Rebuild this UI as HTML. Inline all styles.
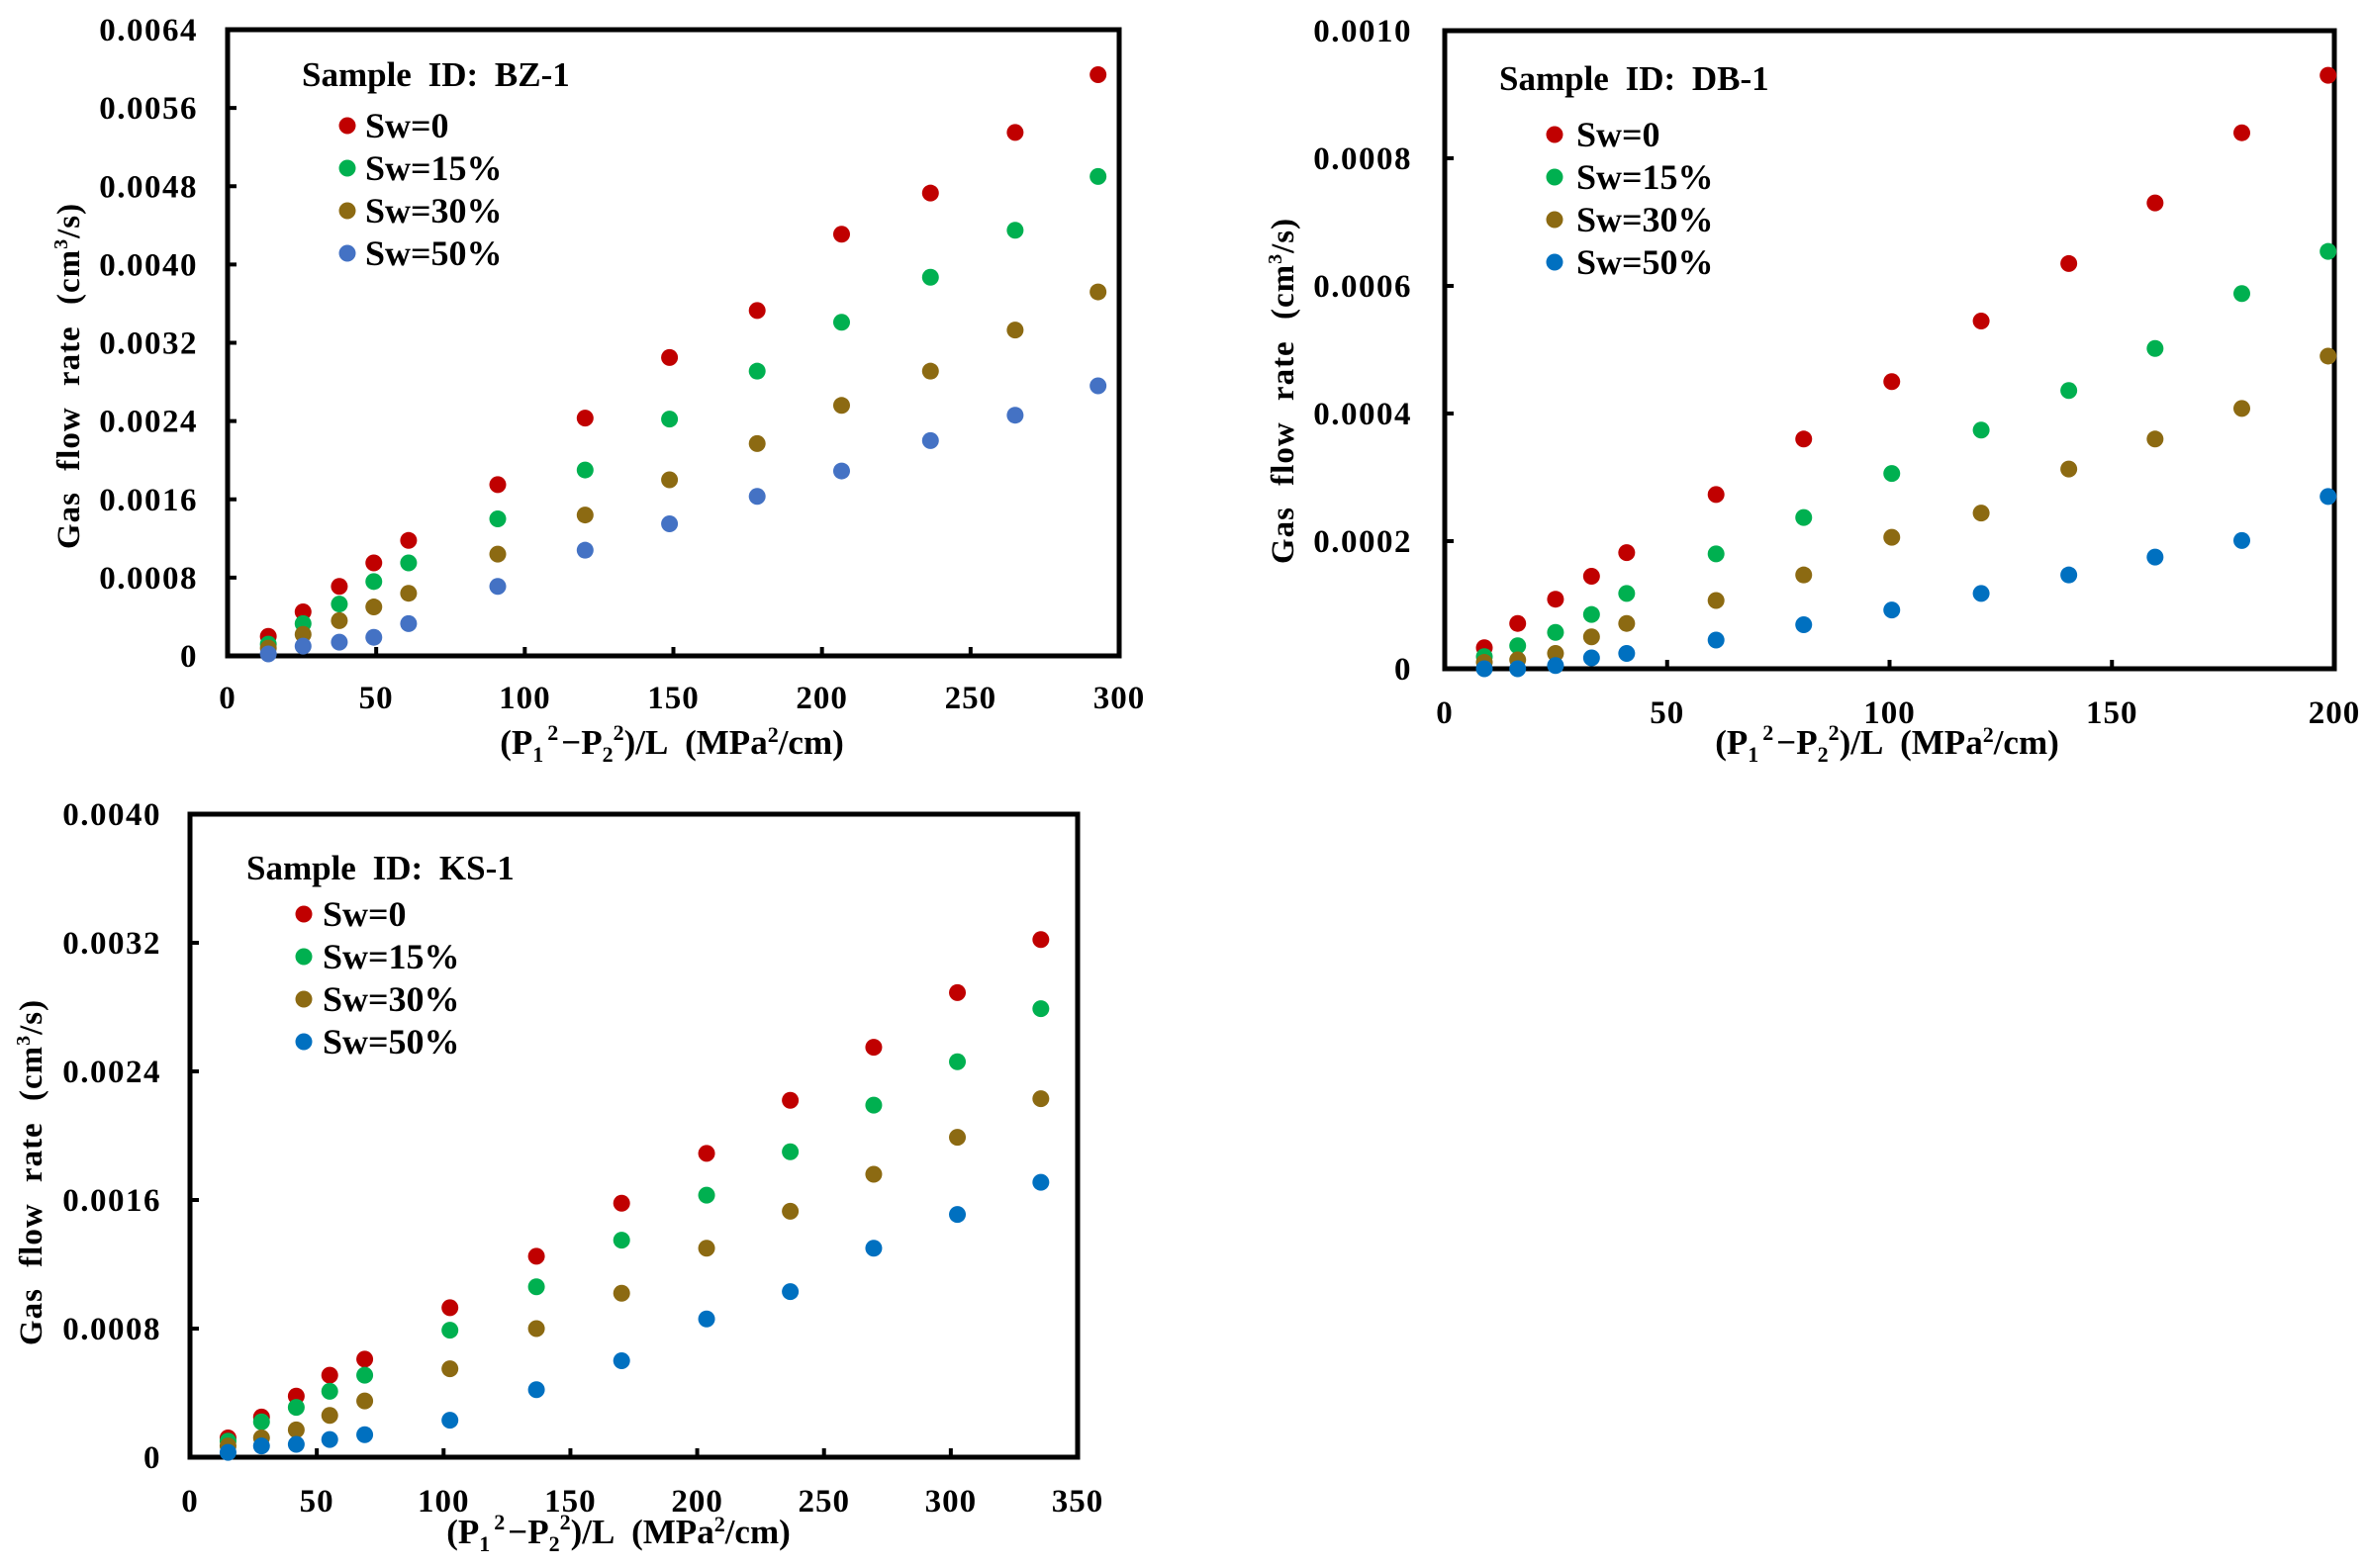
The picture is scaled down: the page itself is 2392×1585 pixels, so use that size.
<!DOCTYPE html>
<html><head><meta charset="utf-8"><style>
html,body{margin:0;padding:0;background:#fff;}
svg{display:block;font-family:"Liberation Serif",serif;font-weight:bold;}
</style></head><body>
<svg id="fig" width="2392" height="1585" viewBox="0 0 2392 1585" xmlns="http://www.w3.org/2000/svg"></svg>
<script>
// ---- data ----
const seriesNames = ["Sw=0","Sw=15%","Sw=30%","Sw=50%"];
const bzX = [13.7,25.4,37.6,49.2,60.9,90.9,120.3,148.7,178.2,206.6,236.5,265,292.9];
const bzSw0 = [0.0002,0.00045,0.00071,0.00095,0.00118,0.00175,0.00243,0.00305,0.00353,0.00431,0.00473,0.00535,0.00594];
const bzSw15 = [0.00012,0.00033,0.00053,0.00076,0.00095,0.0014,0.0019,0.00242,0.00291,0.00341,0.00387,0.00435,0.0049];
const bzSw30 = [0.00008,0.00022,0.00036,0.0005,0.00064,0.00104,0.00144,0.0018,0.00217,0.00256,0.00291,0.00333,0.00372];
const bzSw50 = [0.00002,0.0001,0.00014,0.00019,0.00033,0.00071,0.00108,0.00135,0.00163,0.00189,0.0022,0.00246,0.00276];
const bzXTicks = ["0","50","100","150","200","250","300"];
const bzYTicks = ["0","0.0008","0.0016","0.0024","0.0032","0.0040","0.0048","0.0056","0.0064"];

const dbX = [8.9,16.4,24.9,33,40.9,61,80.7,100.5,120.6,140.3,159.7,179.2,198.6];
const dbSw0 = [0.000033,0.000071,0.000109,0.000145,0.000182,0.000273,0.00036,0.00045,0.000545,0.000635,0.00073,0.00084,0.00093];
const dbSw15 = [0.000019,0.000036,0.000057,0.000085,0.000118,0.00018,0.000237,0.000306,0.000374,0.000436,0.000502,0.000588,0.000654];
const dbSw30 = [0.00001,0.000014,0.000024,0.00005,0.000071,0.000107,0.000147,0.000206,0.000244,0.000313,0.00036,0.000408,0.00049];
const dbSw50 = [0,0,0.000005,0.000017,0.000024,0.000045,0.000069,0.000092,0.000118,0.000147,0.000175,0.000201,0.00027];
const dbXTicks = ["0","50","100","150","200"];
const dbYTicks = ["0","0.0002","0.0004","0.0006","0.0008","0.0010"];

const ksX = [15,28.2,41.9,55.1,68.9,102.5,136.6,170.2,203.7,236.7,269.6,302.6,335.5];
const ksSw0 = [0.00012,0.00025,0.00038,0.00051,0.00061,0.00093,0.00125,0.00158,0.00189,0.00222,0.00255,0.00289,0.00322];
const ksSw15 = [0.0001,0.00022,0.00031,0.00041,0.00051,0.00079,0.00106,0.00135,0.00163,0.0019,0.00219,0.00246,0.00279];
const ksSw30 = [0.00007,0.00012,0.00017,0.00026,0.00035,0.00055,0.0008,0.00102,0.0013,0.00153,0.00176,0.00199,0.00223];
const ksSw50 = [0.00003,0.00007,0.00008,0.00011,0.00014,0.00023,0.00042,0.0006,0.00086,0.00103,0.0013,0.00151,0.00171];
const ksXTicks = ["0","50","100","150","200","250","300","350"];
const ksYTicks = ["0","0.0008","0.0016","0.0024","0.0032","0.0040"];

const NS="http://www.w3.org/2000/svg";
const svg=document.getElementById('fig');
function mk(tag,attrs,parent,text){const e=document.createElementNS(NS,tag);for(const k in attrs)e.setAttribute(k,attrs[k]);if(text!==undefined)e.textContent=text;parent.appendChild(e);return e;}

function chart(o){
  const g=mk('g',{},svg);
  
  
  const xMax=+o.xt[o.xt.length-1], yMax=+o.yt[o.yt.length-1];
  const sx=v=>o.L+(v/xMax)*(o.R-o.L);
  const sy=v=>o.B-(v/yMax)*(o.B-o.T);
  const box=mk('rect',{x:o.L,y:o.T,width:o.R-o.L,height:o.B-o.T,fill:'none',stroke:'#000','stroke-width':5},g);
  
  
  o.xt.forEach(t=>{const x=sx(+t);
    mk('line',{x1:x,x2:x,y1:o.B,y2:o.B-9,stroke:'#000','stroke-width':4},g);
    const tx=mk('text',{x:x,y:o.xty,'text-anchor':'middle','font-size':33,'letter-spacing':1},g,t);
    
    
  });
  o.yt.forEach(t=>{const y=sy(+t);
    mk('line',{x1:o.L,x2:o.L+9,y1:y,y2:y,stroke:'#000','stroke-width':4},g);
    const tx=mk('text',{x:o.ytx,y:y+11,'text-anchor':'end','font-size':33,'letter-spacing':1.5},g,t);
    
    
  });
  o.series.forEach((s,i)=>{
    s.forEach((v,j)=>{
      const c=mk('circle',{cx:sx(o.x[j]),cy:sy(v),r:8.5,fill:o.colors[i]},g);
      
      
    });
  });
  const st=mk('text',{x:o.sid[0],y:o.sid[1],'font-size':35,'word-spacing':8},g,'Sample ID: '+o.id);
  
  
  seriesNames.forEach((n,i)=>{
    const y=o.leg[2]+i*o.leg[3];
    const d=mk('circle',{cx:o.leg[0],cy:y,r:8.5,fill:o.colors[i]},g);
    
    
    const t=mk('text',{x:o.leg[1],y:y+12,'font-size':36},g,n);
    
    
  });
  const yl=mk('text',{transform:`translate(${o.ylab[0]},${o.ylab[1]}) rotate(-90)`,'text-anchor':'middle','font-size':33,'word-spacing':12,'letter-spacing':1},g);
  
  
  yl.innerHTML='Gas flow rate  (cm<tspan font-size="20" dy="-12">3</tspan><tspan dy="12">/s)</tspan>';
  const xl=mk('text',{x:o.xlab[0],y:o.xlab[1],'text-anchor':'middle','font-size':35,'word-spacing':10},g);
  
  
  xl.innerHTML='(P<tspan font-size="22" dy="8">1</tspan><tspan font-size="22" dy="-22" dx="4">2</tspan><tspan dy="14" dx="3">−P</tspan><tspan font-size="22" dy="8">2</tspan><tspan font-size="22" dy="-22">2</tspan><tspan dy="14">)/L  (MPa</tspan><tspan font-size="22" dy="-12">2</tspan><tspan dy="12">/cm)</tspan>';
}

chart({name:'chart-bz-1',id:'BZ-1',L:230,R:1131,T:30,B:663,x:bzX,series:[bzSw0,bzSw15,bzSw30,bzSw50],
  colors:['#c00000','#00b050','#8c6a12','#4472c4'],xt:bzXTicks,yt:bzYTicks,xty:716,ytx:200,
  sid:[305,87],leg:[351,369,127,43],ylab:[80,380],xlab:[679,762]});
chart({name:'chart-db-1',id:'DB-1',L:1460,R:2359,T:31,B:676,x:dbX,series:[dbSw0,dbSw15,dbSw30,dbSw50],
  colors:['#c00000','#00b050','#8c6a12','#0070c0'],xt:dbXTicks,yt:dbYTicks,xty:731,ytx:1427,
  sid:[1515,91],leg:[1571,1593,136,43],ylab:[1307,395],xlab:[1907,762]});
chart({name:'chart-ks-1',id:'KS-1',L:192,R:1089,T:823,B:1473,x:ksX,series:[ksSw0,ksSw15,ksSw30,ksSw50],
  colors:['#c00000','#00b050','#8c6a12','#0070c0'],xt:ksXTicks,yt:ksYTicks,xty:1528,ytx:163,
  sid:[249,889],leg:[307,326,924,43],ylab:[42,1185],xlab:[625,1560]});
</script>
</body></html>
